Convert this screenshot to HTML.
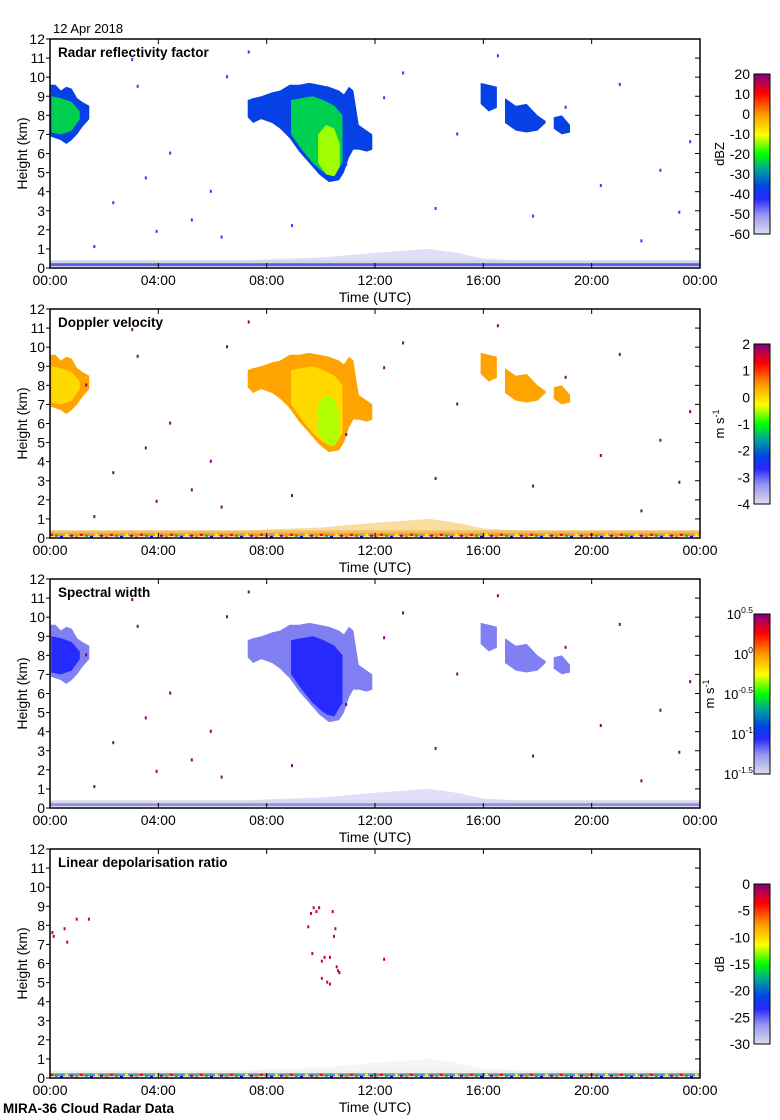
<!DOCTYPE html>
<html><head><meta charset="utf-8">
<style>
body{margin:0;background:#fff;}
svg{display:block;font-family:"Liberation Sans",sans-serif;}
</style></head>
<body>
<svg id="fig" width="780" height="1120" viewBox="0 0 780 1120" xmlns="http://www.w3.org/2000/svg"></svg>
<script>
// ---- data ----
const panelTitles = ["Radar reflectivity factor","Doppler velocity","Spectral width","Linear depolarisation ratio"];
const xTickLabels = ["00:00","04:00","08:00","12:00","16:00","20:00","00:00"];
const yTickLabels = [0,1,2,3,4,5,6,7,8,9,10,11,12];
const cbLabels = [["20","10","0","-10","-20","-30","-40","-50","-60"],["2","1","0","-1","-2","-3","-4"],["0.5","0","-0.5","-1","-1.5"],["0","-5","-10","-15","-20","-25","-30"]];
const cbUnits = ["dBZ","m s-1","m s-1","dB"];
// cloud outlines (hours, km)
const c1Times=[0,0.2,0.4,0.6,0.8,1.0,1.2,1.45];
const c1Tops=[9.6,9.6,9.3,9.5,9.4,8.9,8.7,8.5];
const c1Bases=[6.9,6.8,6.7,6.5,6.7,7.0,7.4,7.8];
const c1CoreTimes=[0.05,0.4,0.8,1.1];
const c1CoreTops=[9.0,8.9,8.7,8.2];
const c1CoreBases=[7.1,7.0,7.2,7.8];
const c2Times=[7.3,7.5,7.8,8.2,8.5,8.85,9.2,9.57,9.94,10.3,10.67,10.85,11.04,11.2,11.4,11.7,11.9];
const c2Tops=[8.8,8.9,9.0,9.2,9.3,9.6,9.6,9.7,9.6,9.5,9.3,9.1,9.5,9.3,7.5,7.2,7.0];
const c2Bases=[7.9,7.6,7.8,7.6,7.3,6.8,6.1,5.5,4.9,4.5,4.6,5.0,5.8,6.2,6.2,6.1,6.2];
const c2CoreTimes=[8.9,9.3,9.7,10.1,10.5,10.8];
const c2CoreTops=[8.8,8.9,9.0,8.8,8.5,8.0];
const c2CoreBases=[7.0,6.2,5.5,5.0,4.9,5.5];
const c2InnerTimes=[9.9,10.2,10.5,10.7];
const c2InnerTops=[7.0,7.5,7.3,6.5];
const c2InnerBases=[5.5,4.9,4.8,5.3];
const c3aTimes=[15.9,16.2,16.5]; const c3aTops=[9.7,9.6,9.5]; const c3aBases=[8.6,8.2,8.4];
const c3bTimes=[16.8,17.2,17.6,18.0,18.3]; const c3bTops=[8.9,8.5,8.6,8.0,7.7]; const c3bBases=[7.6,7.2,7.1,7.2,7.6];
const c3cTimes=[18.6,18.9,19.2]; const c3cTops=[7.9,8.0,7.5]; const c3cBases=[7.3,7.0,7.1];
// layer values per panel: [edge, core, inner]
const reflValues=[-37,-24,-14];
const velValues=[0.4,0.0,-0.5];
const widthValues=[-1.22,-1.05,-1.05];
// clutter top height (km) by hour 0..24
const clutterHours=[0,2,4,6,8,10,12,13,14,15,16,18,20,22,24];
const clutterTops=[0.35,0.3,0.3,0.3,0.45,0.55,0.8,0.9,1.0,0.8,0.5,0.35,0.35,0.3,0.3];
// LDR scattered points (hour, km)
const ldrHours=[0.05,0.1,0.5,0.6,0.95,1.4,9.5,9.6,9.7,9.8,9.9,10.0,10.1,10.2,10.3,10.4,10.45,10.5,10.55,10.6,10.65,9.65,10.0,10.3,12.3];
const ldrKm=[7.7,7.5,7.9,7.2,8.4,8.4,8.0,8.7,9.0,8.8,9.0,6.2,6.4,5.1,5.0,8.8,7.5,7.9,5.9,5.7,5.6,6.6,5.3,6.4,6.3];
// speckle points (hour, km)
const speckHours=[1.3,1.6,2.3,3.0,3.2,3.5,3.9,4.4,5.2,5.9,6.3,6.5,7.3,8.9,10.9,12.3,13.0,14.2,15.0,16.5,17.8,19.0,20.3,21.0,21.8,22.5,23.2,23.6];
const speckKm=[8.1,1.2,3.5,11.0,9.6,4.8,2.0,6.1,2.6,4.1,1.7,10.1,11.4,2.3,5.5,9.0,10.3,3.2,7.1,11.2,2.8,8.5,4.4,9.7,1.5,5.2,3.0,6.7];

// ---- layout ----
const L=50,R=700,PH=229,tops=[39,309,579,849];
const NS="http://www.w3.org/2000/svg";
const svg=document.getElementById('fig');
function el(tag,attrs,parent){const e=document.createElementNS(NS,tag);for(const k in attrs)e.setAttribute(k,attrs[k]);(parent||svg).appendChild(e);return e;}
const xS=h=>L+(R-L)*h/24;
const yS=(top,km)=>top+PH-PH*km/12;
const stops=[[0,[220,220,236]],[0.12,[150,150,240]],[0.22,[40,40,255]],[0.3,[0,70,225]],[0.4,[0,160,160]],[0.5,[0,255,0]],[0.62,[255,255,0]],[0.75,[255,150,0]],[0.88,[255,0,0]],[1,[128,0,128]]];
function cmap(t){t=Math.max(0,Math.min(1,t));for(let i=1;i<stops.length;i++){if(t<=stops[i][0]){const a=stops[i-1],b=stops[i],f=(t-a[0])/(b[0]-a[0]);return 'rgb('+a[1].map((v,j)=>Math.round(v+(b[1][j]-v)*f)).join(',')+')';}}return 'rgb(128,0,128)';}
const norms=[v=>(v+60)/80,v=>(v+4)/6,v=>(v+1.5)/2,v=>(v+30)/30];

function cloud(g,top,times,tps,bs,color,name){
  let p=times.map((t,i)=>xS(t)+','+yS(top,tps[i]));
  for(let i=times.length-1;i>=0;i--)p.push(xS(times[i])+','+yS(top,bs[i]));
  const poly=el('polygon',{points:p.join(' '),fill:color},g);
  
  
}

const defs=el('defs',{});
const lg=el('linearGradient',{id:'cmapgrad',x1:0,y1:1,x2:0,y2:0},defs);
stops.forEach(s=>el('stop',{offset:s[0],'stop-color':'rgb('+s[1].join(',')+')'},lg));

for(let p=0;p<4;p++){
  const top=tops[p];
  const g=el('g',{});
  
  
  const norm=norms[p];
  // clutter band
  const cp=[];
  clutterHours.forEach((h,i)=>cp.push(xS(h)+','+yS(top,clutterTops[i])));
  cp.push(xS(24)+','+yS(top,0.08),xS(0)+','+yS(top,0.08));
  const bandCol=['rgba(150,150,230,0.3)','rgba(245,180,40,0.45)','rgba(150,150,230,0.3)','rgba(230,230,230,0.4)'][p];
  const band=el('polygon',{points:cp.join(' '),fill:bandCol},g);
  
  
  const lg2=el('rect',{x:L,y:yS(top,0.4),width:R-L,height:yS(top,0.1)-yS(top,0.4),fill:['#d4d4e4','#f0c060','#d8d8e8','#f0f0f0'][p]},g);
  
  
  const lineCol=['#6060e8','#e8a020','#9090e8','#60a0a0'][p];
  const gl=el('rect',{x:L,y:yS(top,0.25),width:R-L,height:3,fill:lineCol},g);
  
  
  if(p===1||p===3){
    const cols=['#ff0000','#00c000','#0000ff','#ffff00','#800080','#ff8000'];
    for(let i=0;i<130;i++){
      const r=el('rect',{x:L+i*5,y:yS(top,0.22)+(i%3),width:3,height:2,fill:cols[i%6]},g);
      
      
    }
  }
  if(p<3){
    const vals=[reflValues,velValues,widthValues][p].map(v=>cmap(norm(v)));
    cloud(g,top,c1Times,c1Tops,c1Bases,vals[0],'cloud-early');
    cloud(g,top,c1CoreTimes,c1CoreTops,c1CoreBases,vals[1],'cloud-early-core');
    cloud(g,top,c2Times,c2Tops,c2Bases,vals[0],'cloud-main');
    cloud(g,top,c2CoreTimes,c2CoreTops,c2CoreBases,vals[1],'cloud-main-core');
    cloud(g,top,c2InnerTimes,c2InnerTops,c2InnerBases,vals[2],'cloud-main-inner');
    cloud(g,top,c3aTimes,c3aTops,c3aBases,vals[0],'cloud-late-a');
    cloud(g,top,c3bTimes,c3bTops,c3bBases,vals[0],'cloud-late-b');
    cloud(g,top,c3cTimes,c3cTops,c3cBases,vals[0],'cloud-late-c');
    speckHours.forEach((h,i)=>{
      const r=el('rect',{x:xS(h),y:yS(top,speckKm[i]),width:2,height:3,fill:['#2040ff','#800080','#800080'][p]},g);
      
      
    });
  } else {
    ldrHours.forEach((h,i)=>{
      const r=el('rect',{x:xS(h),y:yS(top,ldrKm[i]),width:2,height:3,fill:i%4===0?'#e00000':'#c00050'},g);
      
      
    });
  }
  // frame
  const fr=el('rect',{x:L,y:top,width:R-L,height:PH,fill:'none',stroke:'#000','stroke-width':1.5},g);
  
  
  yTickLabels.forEach(v=>{
    const y=yS(top,v);
    el('line',{x1:L-4,x2:L,y1:y,y2:y,stroke:'#000'},g);
    el('line',{x1:R-5,x2:R,y1:y,y2:y,stroke:'#000'},g);
    const t=el('text',{x:L-5,y:y+5,'text-anchor':'end','font-size':14},g);
    t.textContent=v;
    
    
  });
  xTickLabels.forEach((lab,i)=>{
    const x=xS(i*4);
    el('line',{x1:x,x2:x,y1:top,y2:top+5,stroke:'#000'},g);
    el('line',{x1:x,x2:x,y1:top+PH-5,y2:top+PH,stroke:'#000'},g);
    const t=el('text',{x:x,y:top+PH+17,'text-anchor':'middle','font-size':14},g);
    t.textContent=lab;
    
    
  });
  const tt=el('text',{x:58,y:top+18,'font-size':13.5,'font-weight':'bold'},g);
  tt.textContent=panelTitles[p];
  
  
  const yl=el('text',{transform:'translate(27,'+(top+PH/2)+') rotate(-90)','text-anchor':'middle','font-size':14},g);
  yl.textContent='Height (km)';
  
  
  const xl=el('text',{x:375,y:top+PH+34,'text-anchor':'middle','font-size':14},g);
  xl.textContent='Time (UTC)';
  
  
  // colorbar
  const cbT=top+35,cbH=160;
  const cb=el('rect',{x:754,y:cbT,width:16,height:cbH,fill:'url(#cmapgrad)',stroke:'#000','stroke-width':1},g);
  
  
  const labs=cbLabels[p];
  labs.forEach((lab,i)=>{
    const y=cbT+cbH*i/(labs.length-1);
    let t;
    if(p===2){
      t=el('text',{x:753,y:y+5,'text-anchor':'end','font-size':13},g);
      t.textContent='10';const s=el('tspan',{dy:-6,'font-size':8.5},t);s.textContent=lab;
    } else {
      t=el('text',{x:750,y:y+5,'text-anchor':'end','font-size':14},g);
      t.textContent=lab;
    }
    
    
  });
  const ux=p===2?714:724;
  const u=el('text',{transform:'translate('+ux+','+(cbT+cbH/2)+') rotate(-90)','text-anchor':'middle','font-size':13},g);
  if(cbUnits[p]==='m s-1'){u.textContent='m s';const s=el('tspan',{dy:-5,'font-size':9},u);s.textContent='-1';}
  else u.textContent=cbUnits[p];
  
  
}
const d=el('text',{x:53,y:33,'font-size':13});
d.textContent='12 Apr 2018';


const f=el('text',{x:3,y:1113,'font-size':13.5,'font-weight':'bold'});
f.textContent='MIRA-36 Cloud Radar Data';


</script>
</body></html>
